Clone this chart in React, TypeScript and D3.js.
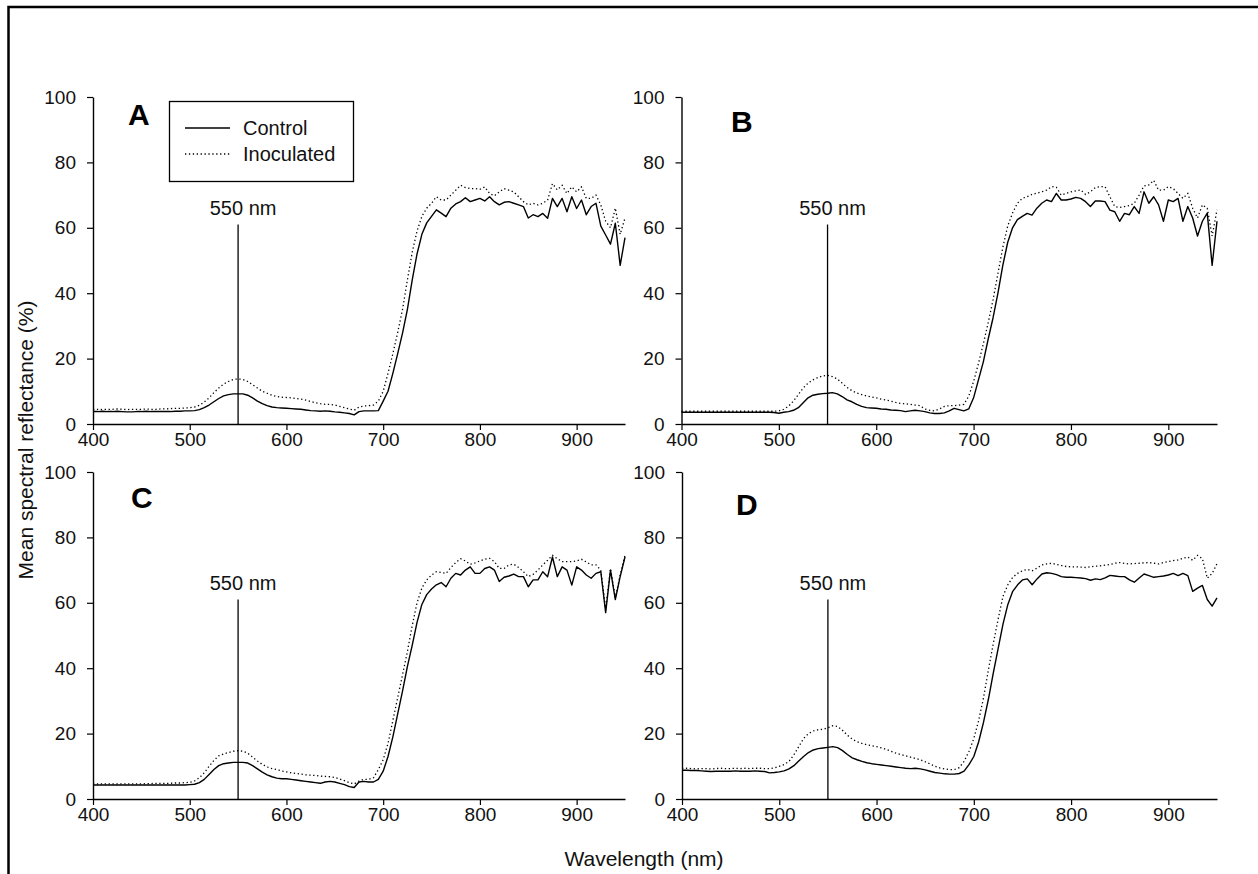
import { useEffect, useRef } from "react";
import * as d3 from "d3";

// wavelength grid (nm), one value every 5 nm
const wavelengths = [
  400, 405, 410, 415, 420, 425, 430, 435, 440, 445,
  450, 455, 460, 465, 470, 475, 480, 485, 490, 495,
  500, 505, 510, 515, 520, 525, 530, 535, 540, 545,
  550, 555, 560, 565, 570, 575, 580, 585, 590, 595,
  600, 605, 610, 615, 620, 625, 630, 635, 640, 645,
  650, 655, 660, 665, 670, 675, 680, 685, 690, 695,
  700, 705, 710, 715, 720, 725, 730, 735, 740, 745,
  750, 755, 760, 765, 770, 775, 780, 785, 790, 795,
  800, 805, 810, 815, 820, 825, 830, 835, 840, 845,
  850, 855, 860, 865, 870, 875, 880, 885, 890, 895,
  900, 905, 910, 915, 920, 925, 930, 935, 940, 945,
  950,
];

// mean spectral reflectance (%)
const controlA = [
  3.8, 3.8, 3.9, 3.8, 3.8, 3.9, 3.8, 3.7, 3.7, 3.8,
  3.8, 3.9, 3.8, 3.8, 3.8, 3.8, 3.8, 3.9, 3.9, 4.0,
  4.0, 4.1, 4.4, 5.0, 5.8, 6.8, 7.8, 8.6, 9.0, 9.2,
  9.2, 9.2, 8.8, 8.0, 7.0, 6.2, 5.6, 5.2, 5.0, 4.9,
  4.8, 4.7, 4.6, 4.5, 4.3, 4.1, 4.0, 3.9, 4.0, 3.9,
  3.7, 3.6, 3.4, 3.2, 2.8, 3.8, 4.0, 4.0, 4.0, 4.1,
  7.0, 10.0, 15.5, 21.5, 27.8, 35.0, 44.0, 52.0, 58.0, 61.5,
  63.5, 65.5, 64.5, 63.4, 66.0, 67.3, 68.0, 69.2, 68.0, 68.5,
  69.0, 68.2, 69.5, 68.0, 67.0, 67.8, 68.0, 67.5, 67.0, 66.5,
  63.0, 64.0, 63.4, 64.4, 62.9, 69.0, 66.5, 69.0, 64.9, 69.5,
  65.9, 68.5, 64.0, 66.5, 67.5, 60.5, 57.8, 55.0, 61.4, 48.5,
  57.0,
];
const inoculatedA = [
  4.5, 4.5, 4.4, 4.5, 4.5, 4.6, 4.5, 4.4, 4.5, 4.5,
  4.5, 4.6, 4.5, 4.5, 4.6, 4.6, 4.7, 4.8, 4.8, 4.9,
  5.0, 5.2, 5.7, 6.7, 8.0, 9.6, 11.0, 12.2, 13.0, 13.6,
  13.8, 13.6, 13.0, 12.0, 11.0, 10.0, 9.4, 8.8, 8.4, 8.2,
  8.1, 8.0, 7.8, 7.6, 7.3, 6.9, 6.5, 6.2, 6.0, 6.0,
  5.8, 5.4, 5.0, 4.6, 4.2, 5.2, 5.5, 5.6, 5.8, 7.0,
  10.0, 15.5, 21.5, 28.0, 35.0, 44.0, 52.5, 59.0, 63.5, 66.0,
  67.5, 69.5, 68.5, 68.5, 70.0, 71.5, 73.0, 72.3, 72.0, 72.0,
  71.8, 72.5, 70.5, 69.8, 71.0, 72.0, 71.5, 71.0, 69.5, 68.0,
  67.0, 67.5, 67.0, 67.5, 68.5, 73.5, 71.6, 73.0, 70.5, 72.5,
  71.0, 72.5, 69.0, 69.0, 70.0, 67.0, 62.0, 60.0, 66.0, 58.0,
  63.0,
];

const controlB = [
  3.6, 3.6, 3.6, 3.6, 3.6, 3.6, 3.6, 3.6, 3.6, 3.6,
  3.6, 3.6, 3.6, 3.6, 3.6, 3.6, 3.6, 3.6, 3.6, 3.5,
  3.3, 3.6, 3.8, 4.2, 5.0, 6.5, 8.0, 8.8, 9.1, 9.3,
  9.4, 9.6, 9.2, 8.4, 7.4, 6.8, 6.0, 5.4, 5.0, 4.9,
  4.8, 4.6, 4.5, 4.3, 4.2, 4.1, 3.8, 4.0, 4.2, 4.0,
  3.8, 3.4, 3.2, 3.2, 3.4, 4.0, 4.8, 4.4, 4.0, 4.6,
  8.0, 13.5, 19.0, 26.0, 32.5, 40.0, 48.5, 55.5, 60.0, 62.5,
  63.5, 64.4, 63.9, 66.0, 67.5, 68.5, 68.0, 70.5, 68.5, 68.5,
  68.8, 69.3, 69.0, 68.0, 66.5, 68.2, 68.2, 68.0, 65.4, 64.9,
  62.0, 64.4, 64.0, 66.5, 64.4, 71.0, 67.5, 69.5, 67.0, 62.0,
  68.5, 68.0, 69.0, 62.0, 66.5, 63.0, 57.5, 62.0, 64.5, 48.5,
  62.0,
];
const inoculatedB = [
  3.9, 3.9, 3.9, 3.9, 3.9, 3.9, 3.9, 3.9, 3.9, 3.9,
  3.9, 3.9, 3.9, 3.9, 3.9, 3.9, 3.9, 3.9, 3.9, 3.9,
  4.0, 4.5, 5.5, 7.0, 9.0, 11.0, 12.5, 13.5, 14.2, 14.7,
  14.9, 14.5, 13.8, 12.5, 11.2, 10.2, 9.5, 9.0, 8.6, 8.3,
  8.0, 7.6, 7.3, 7.0, 6.6, 6.3, 6.2, 6.0, 5.8, 5.6,
  4.6, 4.2, 4.0, 4.6, 5.4, 5.6, 5.6, 5.8, 6.0, 8.5,
  13.0, 18.5, 24.5, 31.0, 38.0, 46.0, 54.0, 60.5, 64.5, 67.5,
  69.0, 69.5, 70.2, 70.6, 71.0, 71.5, 72.6, 72.4, 70.0, 70.5,
  71.0, 71.3, 71.6, 70.2, 71.0, 72.3, 72.6, 72.6, 69.5, 66.5,
  66.2, 66.5, 66.8, 67.5, 70.0, 72.8, 73.1, 74.5, 71.5, 71.5,
  72.6, 72.0, 70.5, 69.0, 70.5, 66.0, 63.0, 67.0, 66.0, 57.5,
  65.5,
];

const controlC = [
  4.3, 4.3, 4.3, 4.3, 4.3, 4.3, 4.3, 4.3, 4.3, 4.3,
  4.3, 4.3, 4.3, 4.3, 4.3, 4.3, 4.3, 4.3, 4.3, 4.3,
  4.4, 4.5, 5.0, 6.0, 7.5, 9.0, 10.2, 10.8, 11.0, 11.2,
  11.2, 11.2, 11.0, 10.2, 9.2, 8.2, 7.4, 6.8, 6.4, 6.2,
  6.2, 6.0, 5.8, 5.6, 5.4, 5.2, 5.0, 4.8, 5.2, 5.4,
  5.2, 4.8, 4.4, 3.8, 3.5, 5.2, 5.4, 5.2, 5.2, 6.0,
  8.5, 13.0, 19.0, 26.0, 33.0, 40.5, 47.0, 54.0, 59.5, 62.5,
  64.2, 65.5, 66.2, 64.9, 67.5, 69.0, 68.5, 70.0, 71.0, 69.0,
  69.0, 70.5, 71.0, 70.0, 66.5, 67.8, 68.2, 68.8, 68.0, 68.0,
  64.9, 67.0, 67.0, 69.5, 68.0, 74.0, 68.0, 71.0, 70.0, 65.4,
  71.0, 70.0, 68.5, 67.5, 69.0, 69.5, 57.0, 70.0, 61.0, 68.0,
  74.0,
];
const inoculatedC = [
  4.6, 4.6, 4.6, 4.6, 4.6, 4.6, 4.6, 4.6, 4.6, 4.6,
  4.6, 4.7, 4.7, 4.8, 4.8, 4.8, 4.8, 4.9, 4.9, 5.0,
  5.1, 5.5, 6.5, 8.0, 10.0, 11.8, 13.2, 13.8, 14.2, 14.6,
  14.8, 14.6, 14.0, 12.8, 11.6, 10.6, 9.8, 9.3, 9.0, 8.6,
  8.3, 8.0, 7.8, 7.6, 7.4, 7.3, 7.2, 7.0, 6.9, 6.8,
  6.6, 6.1, 5.6, 5.0, 4.6, 5.5, 6.0, 6.0, 6.5, 9.0,
  12.0, 17.0, 24.0, 31.0, 38.0, 45.0, 53.0, 60.0, 64.5, 67.0,
  68.5, 69.5, 69.3, 69.0, 70.8, 72.3, 73.5, 72.8, 71.8, 72.2,
  72.8, 73.3, 73.6, 72.6, 70.5, 70.5, 71.6, 71.8, 70.8, 69.5,
  68.0, 68.7, 70.0, 71.6, 73.0, 74.5, 73.5, 72.6, 72.6, 72.6,
  72.8, 73.3, 72.5, 71.6, 71.6, 70.0, 58.0, 70.5, 61.5, 68.5,
  74.5,
];

const controlD = [
  8.8, 8.8, 8.7, 8.7, 8.6, 8.5, 8.4, 8.5, 8.5, 8.5,
  8.5, 8.6, 8.5, 8.5, 8.5, 8.6, 8.5, 8.4, 8.0, 8.1,
  8.3, 8.6, 9.2, 10.2, 11.6, 13.0, 14.2, 15.0, 15.4, 15.6,
  15.8, 16.0, 15.7, 14.8, 13.6, 12.6, 12.0, 11.5, 11.1, 10.8,
  10.6, 10.4, 10.2, 10.0, 9.8, 9.6, 9.4, 9.3, 9.4, 9.2,
  8.9, 8.5, 8.1, 7.9, 7.7, 7.6, 7.6, 7.8, 8.5, 10.5,
  13.0, 17.5, 23.5, 30.5, 38.5, 46.0, 53.5, 59.5, 63.5, 65.5,
  67.0, 67.3, 65.5, 67.3, 68.8, 69.2, 69.0, 68.6, 68.0, 67.8,
  67.8, 67.7, 67.6, 67.4, 66.9, 67.3, 67.1, 67.6, 68.4, 68.2,
  68.0, 68.0, 67.0, 66.3, 67.6, 68.8, 68.3, 67.8, 68.0, 68.2,
  68.5, 69.0, 68.3, 69.0, 68.3, 63.5, 64.5, 65.3, 61.0, 59.0,
  61.5,
];
const inoculatedD = [
  9.3, 9.4, 9.3, 9.2, 9.3, 9.3, 9.2, 9.3, 9.4, 9.3,
  9.3, 9.4, 9.3, 9.4, 9.3, 9.4, 9.4, 9.3, 9.3, 9.5,
  10.0, 10.5, 11.5, 13.5, 16.0, 18.5, 20.0, 20.8, 21.2, 21.3,
  21.8, 22.4, 22.2, 21.0, 19.5, 18.3, 17.5, 17.0, 16.6, 16.3,
  16.0, 15.6, 15.2, 14.6, 14.0, 13.6, 13.2, 12.8, 12.4, 12.0,
  11.4, 10.7, 10.0, 9.5, 9.2, 9.0, 9.0, 9.6, 11.5, 14.5,
  18.5, 24.0, 31.0, 39.5, 47.5, 55.0, 62.0, 65.5, 67.8, 69.0,
  69.8, 70.2, 69.8, 70.6, 71.6, 71.9, 72.1, 71.7, 71.4, 71.1,
  71.0, 71.0, 70.9, 70.8, 71.0, 71.2, 71.3, 71.5, 71.7, 72.1,
  72.3, 72.0, 71.9, 72.0, 72.1, 72.2, 72.3, 72.1, 71.9, 72.3,
  72.6, 72.9, 73.1, 73.6, 74.0, 73.0, 74.5, 73.5, 67.5, 69.0,
  72.0,
];

const panelLabels = ["A", "B", "C", "D"];
const controlSeries = [controlA, controlB, controlC, controlD];
const inoculatedSeries = [inoculatedA, inoculatedB, inoculatedC, inoculatedD];
const xTicks = [400, 500, 600, 700, 800, 900];
const yTicks = [0, 20, 40, 60, 80, 100];
const markerWavelength = 550;
const markerTop = 61;
const legendLabels = ["Control", "Inoculated"];

// panel placement on the page
const layout = [
  { left: 93, top: 97, width: 532, letterX: 128, letterY: 125 },
  { left: 681.5, top: 97, width: 535.5, letterX: 731, letterY: 132 },
  { left: 93, top: 472, width: 532, letterX: 131, letterY: 508 },
  { left: 682, top: 472, width: 535, letterX: 736, letterY: 515 },
];
const plotHeight = 327;
const font = "'Liberation Sans', Arial, Helvetica, sans-serif";
const dotted = "1.3,2.6";

export default function App() {
  const ref = useRef<SVGSVGElement>(null);

  useEffect(() => {
    if (!ref.current) return;
    const svg = d3.select(ref.current);
    svg.selectAll("*").remove();

    // outer frame: only its top and left edges fall inside the picture
    svg
      .append("rect")
      .attr("x", 8.5)
      .attr("y", 7)
      .attr("width", 1400)
      .attr("height", 1000)
      .attr("fill", "none")
      .attr("stroke", "#000")
      .attr("stroke-width", 2.5);

    panelLabels.forEach((label, k) => {
      const p = layout[k];
      const x = d3.scaleLinear().domain([400, 950]).range([0, p.width]);
      const y = d3.scaleLinear().domain([0, 100]).range([plotHeight, 0]);
      const g = svg.append("g").attr("transform", `translate(${p.left},${p.top})`);

      const xAxis = g
        .append("g")
        .attr("transform", `translate(0,${plotHeight})`)
        .call(d3.axisBottom(x).tickValues(xTicks).tickSize(6).tickSizeOuter(0).tickPadding(3));
      const yAxis = g
        .append("g")
        .call(d3.axisLeft(y).tickValues(yTicks).tickSize(6).tickSizeOuter(0).tickPadding(11));
      [xAxis, yAxis].forEach((a) => {
        a.select(".domain").attr("stroke", "#000").attr("stroke-width", 1.4);
        a.selectAll(".tick line").attr("stroke", "#000").attr("stroke-width", 1.2);
        a.selectAll(".tick text")
          .attr("font-size", 19)
          .attr("font-family", font)
          .attr("fill", "#111");
      });

      const line = d3
        .line<number>()
        .x((_, i) => x(wavelengths[i]))
        .y((d) => y(d));

      g.append("path")
        .attr("d", line(inoculatedSeries[k]))
        .attr("fill", "none")
        .attr("stroke", "#000")
        .attr("stroke-width", 1.3)
        .attr("stroke-dasharray", dotted);
      g.append("path")
        .attr("d", line(controlSeries[k]))
        .attr("fill", "none")
        .attr("stroke", "#000")
        .attr("stroke-width", 1.4)
        .attr("stroke-linejoin", "round");

      // 550 nm marker
      g.append("line")
        .attr("x1", x(markerWavelength))
        .attr("x2", x(markerWavelength))
        .attr("y1", y(0))
        .attr("y2", y(markerTop))
        .attr("stroke", "#000")
        .attr("stroke-width", 1.3);
      g.append("text")
        .attr("x", x(markerWavelength) + 5)
        .attr("y", y(markerTop) - 10)
        .attr("text-anchor", "middle")
        .attr("font-family", font)
        .attr("font-size", 20)
        .attr("fill", "#111")
        .text(markerWavelength + " nm");

      svg
        .append("text")
        .attr("x", p.letterX)
        .attr("y", p.letterY)
        .attr("font-family", font)
        .attr("font-size", 30)
        .attr("font-weight", "bold")
        .attr("fill", "#000")
        .text(label);
    });

    // legend (panel A)
    const legend = svg.append("g");
    legend
      .append("rect")
      .attr("x", 169.5)
      .attr("y", 101.5)
      .attr("width", 184)
      .attr("height", 80)
      .attr("fill", "#fff")
      .attr("stroke", "#000")
      .attr("stroke-width", 1.3);
    legendLabels.forEach((name, i) => {
      const ly = 128 + i * 26;
      legend
        .append("line")
        .attr("x1", 185)
        .attr("x2", 230)
        .attr("y1", ly)
        .attr("y2", ly)
        .attr("stroke", "#000")
        .attr("stroke-width", 1.3)
        .attr("stroke-dasharray", i === 0 ? null : dotted);
      legend
        .append("text")
        .attr("x", 243)
        .attr("y", ly + 7)
        .attr("font-family", font)
        .attr("font-size", 20)
        .attr("fill", "#111")
        .text(name);
    });

    // axis titles
    svg
      .append("text")
      .attr("transform", "translate(33,440) rotate(-90)")
      .attr("text-anchor", "middle")
      .attr("font-family", font)
      .attr("font-size", 21)
      .attr("fill", "#111")
      .text("Mean spectral reflectance (%)");
    svg
      .append("text")
      .attr("x", 644)
      .attr("y", 866)
      .attr("text-anchor", "middle")
      .attr("font-family", font)
      .attr("font-size", 21)
      .attr("fill", "#111")
      .text("Wavelength (nm)");
  }, []);

  return (
    <svg
      ref={ref}
      width={1258}
      height={874}
      style={{ position: "absolute", left: 0, top: 0, background: "#fff" }}
    />
  );
}
